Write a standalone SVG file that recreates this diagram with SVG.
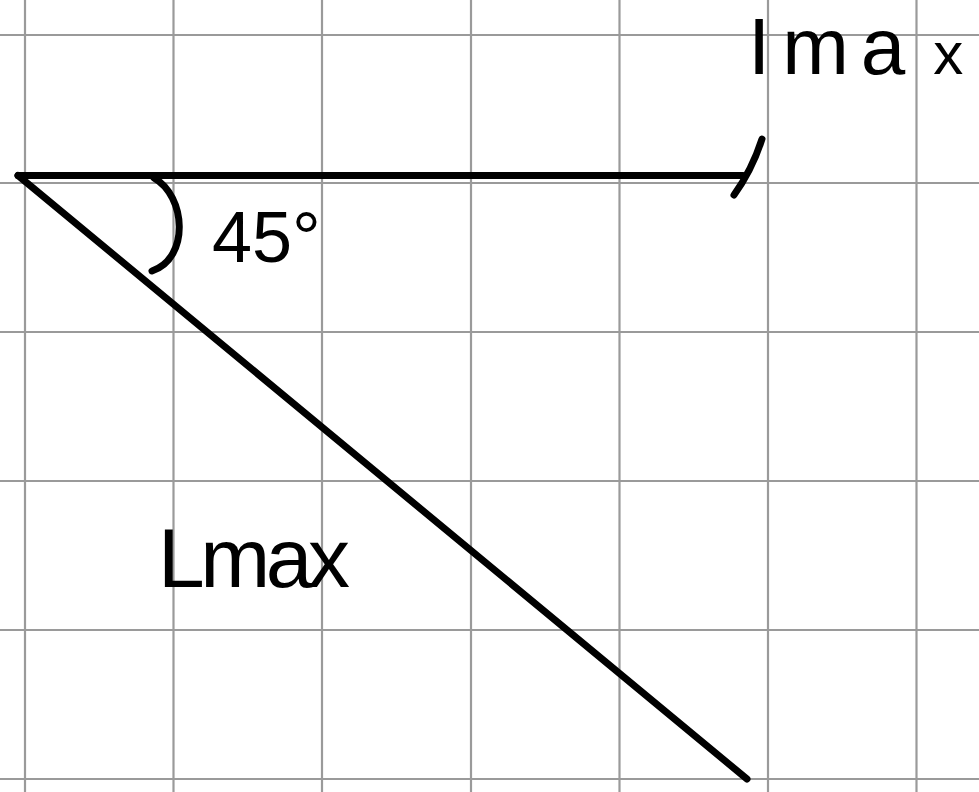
<svg xmlns="http://www.w3.org/2000/svg" width="979" height="792" viewBox="0 0 979 792">
<style>
.grid line{stroke:#9a9a9a;stroke-width:2.2}
.ink{fill:none;stroke:#000;stroke-width:7;stroke-linecap:round;stroke-linejoin:round}
.lbl{font-family:"Liberation Sans","DejaVu Sans",sans-serif;fill:#000}
</style>
<rect width="979" height="792" fill="#fff"/>
<g id="grid" class="grid">
<line x1="25" y1="0" x2="25" y2="792"/>
<line x1="173.5" y1="0" x2="173.5" y2="792"/>
<line x1="322" y1="0" x2="322" y2="792"/>
<line x1="471" y1="0" x2="471" y2="792"/>
<line x1="619.5" y1="0" x2="619.5" y2="792"/>
<line x1="768" y1="0" x2="768" y2="792"/>
<line x1="916.5" y1="0" x2="916.5" y2="792"/>
<line x1="0" y1="35" x2="979" y2="35"/>
<line x1="0" y1="183" x2="979" y2="183"/>
<line x1="0" y1="332" x2="979" y2="332"/>
<line x1="0" y1="481" x2="979" y2="481"/>
<line x1="0" y1="630" x2="979" y2="630"/>
<line x1="0" y1="779" x2="979" y2="779"/>
</g>
<g id="connectors">
<path id="horizontal" class="ink" d="M18,175.5 H743"/>
<path id="tick" class="ink" d="M734,195 Q752,170 762,139"/>
<path id="diagonal" class="ink" d="M18,175.5 L747,779"/>
<path id="angle-arc" class="ink" d="M154,178 C186,196 190,258 152,271"/>
</g>
<g id="label-angle">
<text class="lbl" x="212" y="262" font-size="72">45°</text>
</g>
<g id="label-top">
<text class="lbl" x="748" y="74" font-size="80" letter-spacing="12">Ima<tspan font-size="60" dx="16" letter-spacing="0">x</tspan></text>
</g>
<g id="label-diagonal">
<text class="lbl" x="158" y="587" font-size="84" textLength="192" lengthAdjust="spacing">Lmax</text>
</g>
</svg>
